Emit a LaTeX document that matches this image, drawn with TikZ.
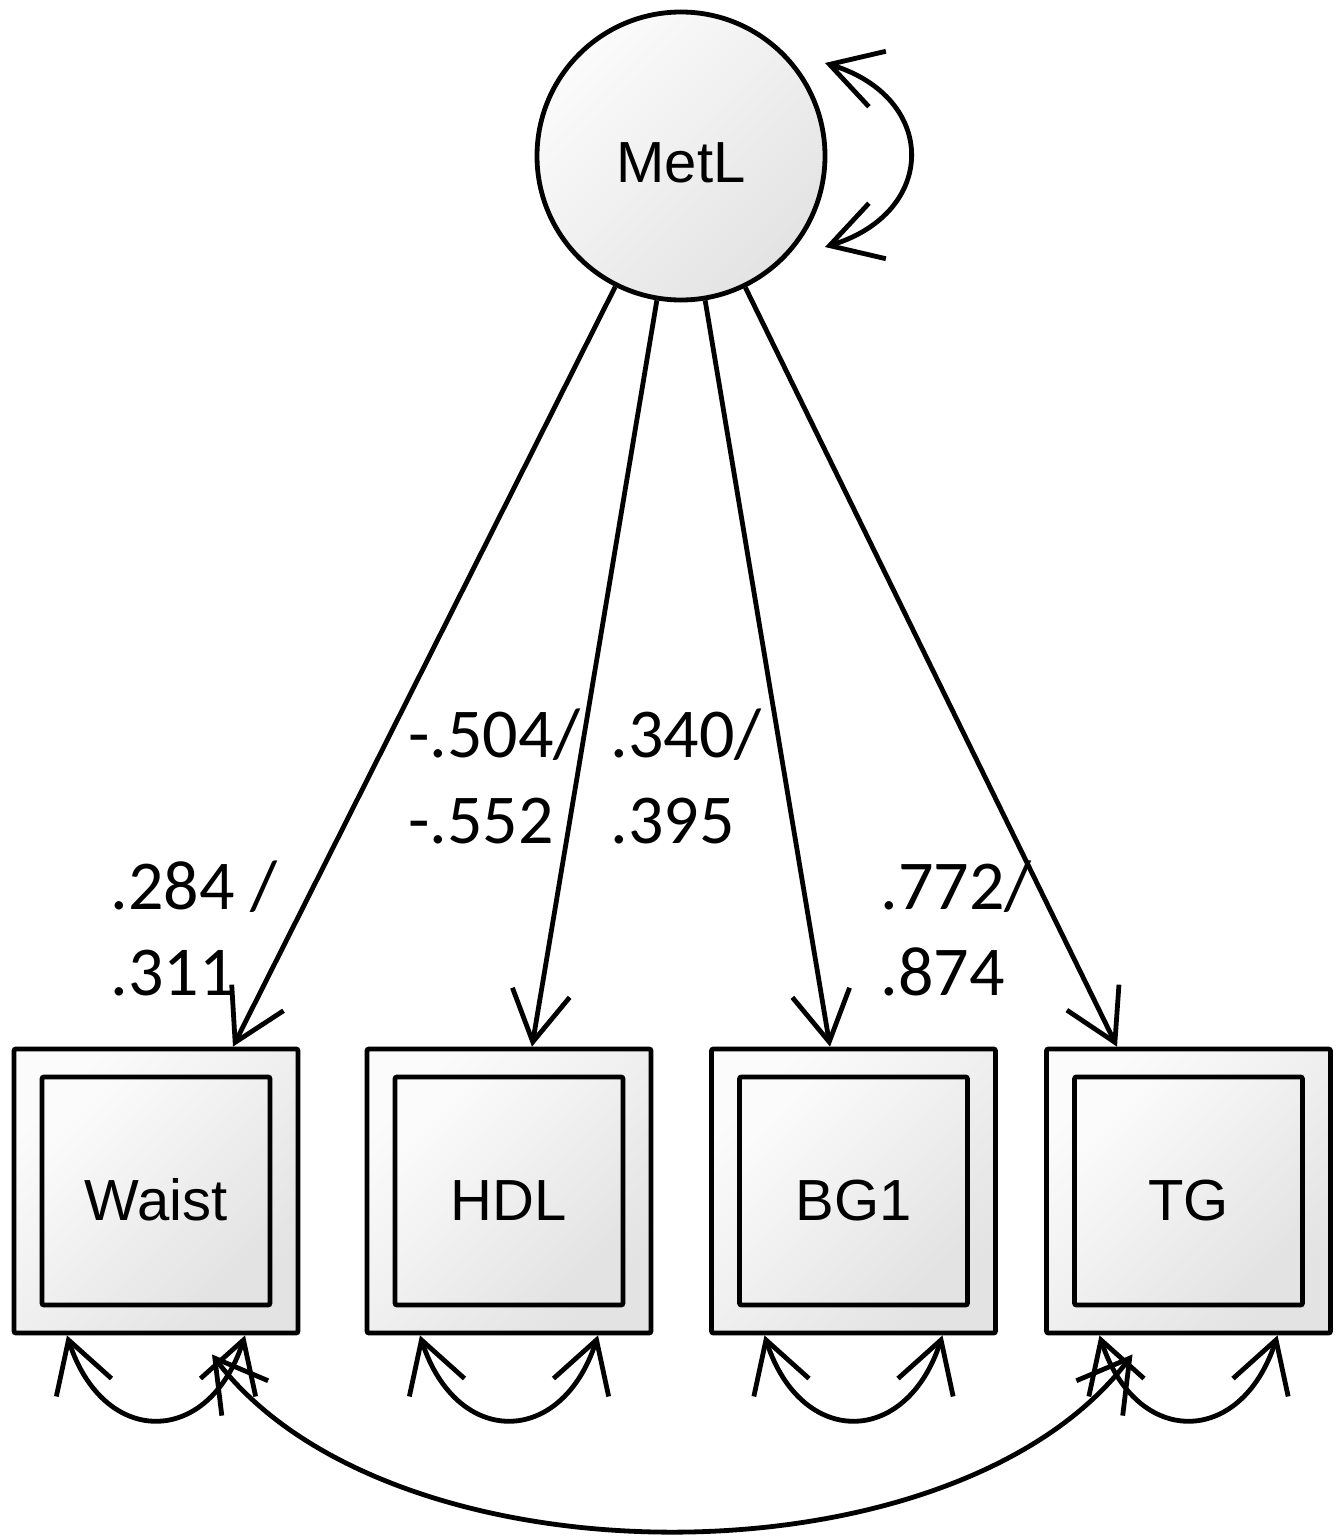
\documentclass[tikz,border=0pt]{standalone}
\usepackage{fontspec}
\setmainfont{Liberation Sans}
\newfontfamily\numfont{Carlito}
\usetikzlibrary{arrows.meta,calc}
\tikzset{
  pane/.style={top color=gray!3, bottom color=gray!22, shading angle=45},
  obsbox/.style={pane, draw, line width=2.4pt, rounded corners=1pt,
      minimum size=142pt, inner sep=0pt},
  obsin/.style={obsbox, minimum size=114pt, font=\fontsize{29}{34}\selectfont,
      text height=29pt, text depth=0pt},
  latent/.style={pane, draw, circle, line width=2.4pt, minimum size=144pt,
      inner sep=0pt, font=\fontsize{29}{34}\selectfont,
      text height=27pt, text depth=0pt},
  load/.style={line width=2.4pt, -{Straight Barb[length=25pt,width=29pt]}},
  twoway/.style={line width=2.4pt,
      {Straight Barb[length=25pt,width=29pt]}-{Straight Barb[length=25pt,width=29pt]}},
  coef/.style={font=\numfont\fontsize{35}{43}\selectfont, align=left,
      inner sep=0pt, anchor=base west}
}

\begin{document}
\begin{tikzpicture}[x=0.5pt, y=0.5pt]
\useasboundingbox (0,0) rectangle (1339,-1536);
% latent factor
\node[latent] (metl) at (681,-156) {MetL};
% indicators
\node[obsbox] (waist) at (156,-1191) {};
\node[obsin] (waistin) at (waist) {Waist};
\node[obsbox] (hdl) at (509,-1191) {};
\node[obsin] (hdlin) at (hdl) {HDL};
\node[obsbox] (bg) at (853.5,-1191) {};
\node[obsin] (bgin) at (bg) {BG1};
\node[obsbox] (tg) at (1188.5,-1191) {};
\node[obsin] (tgin) at (tg) {TG};
% where the loadings hit the boxes
\coordinate (waisttop) at ($(waist.north)+(77,0)$);
\coordinate (hdltop) at ($(hdl.north)+(23,0)$);
\coordinate (bgtop) at ($(bg.north)+(-23.5,0)$);
\coordinate (tgtop) at ($(tg.north)+(-71.5,0)$);
% loadings
\draw[load] (metl) -- (waisttop);
\draw[load] (metl) -- (hdltop);
\draw[load] (metl) -- (bgtop);
\draw[load] (metl) -- (tgtop);
% factor variance
\coordinate (vtop) at ($(metl)+(144,93)$);
\coordinate (vbot) at ($(metl)+(144,-91)$);
\draw[twoway] (vtop) to[out=-17,in=17,looseness=1.65] (vbot);
% residual variances
\foreach \b in {waist,hdl,bg,tg}
  \draw[twoway] ($(\b.south)+(-89,0)$) to[out=-72,in=-108,looseness=1.7] ($(\b.south)+(89,0)$);
% residual covariance
\coordinate (wcov) at ($(waist.south)+(56,-19)$);
\coordinate (tcov) at ($(tg.south)+(-56,-19)$);
\draw[twoway] (wcov) to[out=-53,in=-127,looseness=0.82] (tcov);
% estimates
\node[coef] (lw) at (110,-995) {.284 /\\.311};
\node[coef] (lh) at (408,-843) {-.504/\\-.552};
\node[coef] (lb) at (610,-843) {.340/\\.395};
\node[coef] (lt) at (880,-995) {.772/\\.874};
\end{tikzpicture}
\end{document}
